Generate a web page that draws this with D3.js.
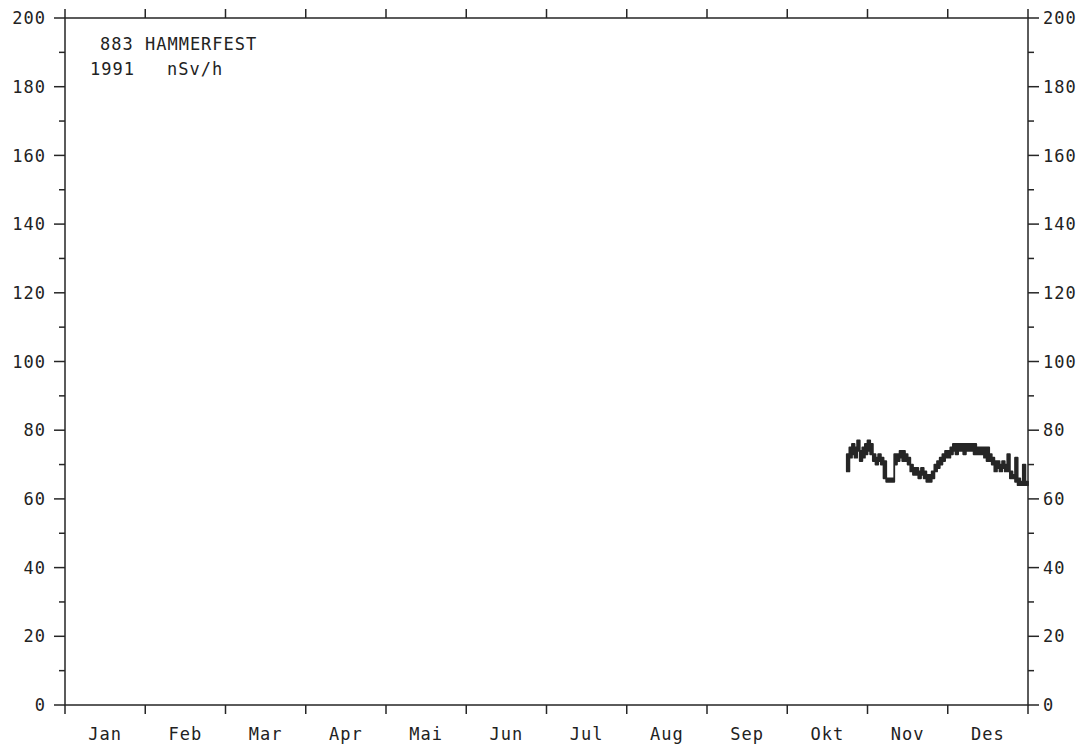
<!DOCTYPE html>
<html lang="no">
<head>
    <meta charset="UTF-8">
    <title>883 HAMMERFEST 1991 nSv/h</title>
    <style>
        body {
            margin: 0;
            background-color: #ffffff;
        }
        svg text {
            font-family: "DejaVu Sans Mono", "Liberation Mono", monospace;
            font-size: 17px;
            letter-spacing: 1px;
            fill: #222;
        }
    </style>
</head>
<body>
    <svg id="chart"></svg>

    <script src="https://d3js.org/d3.v7.min.js"></script>
    <script>
        // Month labels and y tick labels
        const months = ['Jan', 'Feb', 'Mar', 'Apr', 'Mai', 'Jun', 'Jul', 'Aug', 'Sep', 'Okt', 'Nov', 'Des'];
        const monthDays = [31, 28, 31, 30, 31, 30, 31, 31, 30, 31, 30, 31];
        const yMajorTicks = [0, 20, 40, 60, 80, 100, 120, 140, 160, 180, 200];
        const yMinorTicks = [10, 30, 50, 70, 90, 110, 130, 150, 170, 190];

        // Daily dose rate range (nSv/h), 24 Okt - 31 Des 1991
        const dates = [
            '10-24', '10-25', '10-26', '10-27', '10-28', '10-29', '10-30', '10-31',
            '11-01', '11-02', '11-03', '11-04', '11-05', '11-06', '11-07', '11-08', '11-09', '11-10',
            '11-11', '11-12', '11-13', '11-14', '11-15', '11-16', '11-17', '11-18', '11-19', '11-20',
            '11-21', '11-22', '11-23', '11-24', '11-25', '11-26', '11-27', '11-28', '11-29', '11-30',
            '12-01', '12-02', '12-03', '12-04', '12-05', '12-06', '12-07', '12-08', '12-09', '12-10',
            '12-11', '12-12', '12-13', '12-14', '12-15', '12-16', '12-17', '12-18', '12-19', '12-20',
            '12-21', '12-22', '12-23', '12-24', '12-25', '12-26', '12-27', '12-28', '12-29', '12-30',
            '12-31'
        ];
        const dailyLow = [
            68, 72, 73, 72, 74, 71, 72, 73,
            74, 73, 71, 70, 71, 70, 66, 65, 65, 65,
            70, 71, 72, 71, 71, 70, 68, 67, 67, 66,
            67, 66, 65, 65, 66, 68, 69, 70, 71, 72,
            72, 73, 74, 73, 74, 74, 73, 74, 74, 74,
            73, 73, 73, 73, 72, 71, 71, 70, 68, 69,
            68, 69, 68, 68, 66, 66, 65, 64, 64, 64,
            64
        ];
        const dailyHigh = [
            73, 75, 76, 75, 77, 74, 75, 76,
            77, 76, 73, 72, 73, 72, 71, 66, 66, 66,
            73, 73, 74, 74, 73, 72, 70, 69, 69, 68,
            69, 68, 67, 67, 68, 70, 71, 72, 73, 74,
            74, 75, 76, 76, 76, 76, 76, 76, 76, 76,
            76, 75, 75, 75, 75, 75, 73, 72, 71, 71,
            70, 71, 70, 73, 68, 67, 72, 66, 65, 70,
            65
        ];

        const width = 1084;
        const height = 748;
        const margin = { left: 65, right: 56, top: 18, bottom: 43 };
        const plotRight = width - margin.right;
        const plotBottom = height - margin.bottom;

        const svg = d3.select('#chart')
            .attr('width', width)
            .attr('height', height);

        // Months have equal width on this plot
        const x = d3.scaleLinear()
            .domain([0, 12])
            .range([margin.left, plotRight]);

        const y = d3.scaleLinear()
            .domain([0, 200])
            .range([plotBottom, margin.top]);

        // "MM-DD" -> fractional month position
        function monthPos(s) {
            const m = +s.slice(0, 2) - 1;
            const d = +s.slice(3, 5);
            return m + (d - 1) / monthDays[m];
        }

        const series = dates.map((d, i) => ({ t: monthPos(d), lo: dailyLow[i], hi: dailyHigh[i] }));
        // closing point at end of year so the last step is drawn
        series.push({ t: 12, lo: dailyLow[dailyLow.length - 1], hi: dailyHigh[dailyHigh.length - 1] });

        const ink = '#262626';

        // Frame
        svg.append('rect')
            .attr('x', margin.left)
            .attr('y', margin.top)
            .attr('width', plotRight - margin.left)
            .attr('height', plotBottom - margin.top)
            .attr('fill', 'none')
            .attr('stroke', ink)
            .attr('stroke-width', 1.5);

        // Month ticks, bottom (down) and top (up)
        const monthEdges = d3.range(0, 13);
        svg.selectAll('.mtick-b')
            .data(monthEdges)
            .enter()
            .append('line')
            .attr('x1', d => x(d))
            .attr('x2', d => x(d))
            .attr('y1', plotBottom)
            .attr('y2', plotBottom + 9)
            .attr('stroke', ink)
            .attr('stroke-width', 1.5);

        svg.selectAll('.mtick-t')
            .data(monthEdges)
            .enter()
            .append('line')
            .attr('x1', d => x(d))
            .attr('x2', d => x(d))
            .attr('y1', margin.top)
            .attr('y2', margin.top - 9)
            .attr('stroke', ink)
            .attr('stroke-width', 1.5);

        svg.selectAll('.month-label')
            .data(months)
            .enter()
            .append('text')
            .attr('x', (d, i) => x(i + 0.5))
            .attr('y', height - 8)
            .attr('text-anchor', 'middle')
            .text(d => d);

        // Y ticks on both sides, pointing outwards
        [[margin.left, -1], [plotRight, 1]].forEach(([ax, dir]) => {
            svg.selectAll(null)
                .data(yMajorTicks)
                .enter()
                .append('line')
                .attr('x1', ax)
                .attr('x2', ax + dir * 11)
                .attr('y1', d => y(d))
                .attr('y2', d => y(d))
                .attr('stroke', ink)
                .attr('stroke-width', 1.5);

            svg.selectAll(null)
                .data(yMinorTicks)
                .enter()
                .append('line')
                .attr('x1', ax)
                .attr('x2', ax + dir * 6)
                .attr('y1', d => y(d))
                .attr('y2', d => y(d))
                .attr('stroke', ink)
                .attr('stroke-width', 1.5);

            svg.selectAll(null)
                .data(yMajorTicks)
                .enter()
                .append('text')
                .attr('x', ax + dir * (dir < 0 ? 19 : 15))
                .attr('y', d => y(d))
                .attr('dy', '0.36em')
                .attr('text-anchor', dir < 0 ? 'end' : 'start')
                .text(d => d);
        });

        // Data band (daily min/max) plus outline
        const band = d3.area()
            .x(d => x(d.t))
            .y0(d => y(d.lo))
            .y1(d => y(d.hi))
            .curve(d3.curveStepAfter);

        svg.append('path')
            .datum(series)
            .attr('d', band)
            .attr('fill', ink)
            .attr('stroke', ink)
            .attr('stroke-width', 1.8)
            .attr('stroke-linejoin', 'round');

        // Station text
        svg.append('text').attr('x', 100).attr('y', 50).text('883 HAMMERFEST');
        svg.append('text').attr('x', 90).attr('y', 75).text('1991');
        svg.append('text').attr('x', 167).attr('y', 75).text('nSv/h');
    </script>
</body>
</html>
